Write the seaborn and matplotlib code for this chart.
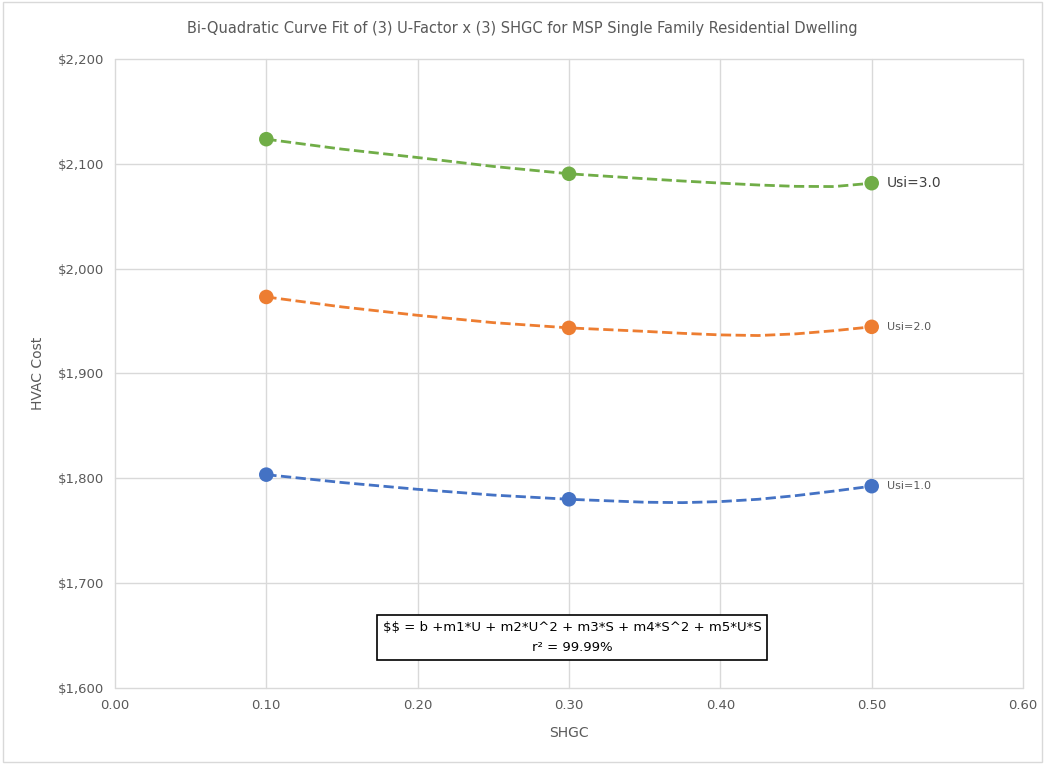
import pandas as pd
import matplotlib.pyplot as plt
import seaborn as sns
from matplotlib.ticker import FuncFormatter

# points
shgc = [0.10, 0.30, 0.50]
cost_u1 = [1803.5, 1780.0, 1792.5]
cost_u2 = [1973.0, 1943.5, 1944.5]
cost_u3 = [2123.5, 2090.5, 2081.5]

# dashed fit curves
curve_x = [0.10, 0.15, 0.20, 0.25, 0.30, 0.35, 0.375, 0.40, 0.425, 0.45, 0.475, 0.50]
curve_u1 = [1803.5, 1796.0, 1789.5, 1784.0, 1780.0, 1777.2, 1776.8, 1777.8, 1780.0, 1783.5, 1787.8, 1792.5]
curve_u2 = [1973.0, 1963.5, 1955.5, 1948.5, 1943.5, 1940.2, 1938.3, 1936.8, 1936.2, 1937.8, 1940.8, 1944.5]
curve_u3 = [2123.5, 2114.0, 2106.0, 2097.5, 2090.5, 2085.8, 2083.6, 2081.6, 2079.8, 2078.5, 2078.3, 2081.5]

series = ["Usi=1.0", "Usi=2.0", "Usi=3.0"]
colors = ["#4472C4", "#ED7D31", "#70AD47"]

pts = pd.DataFrame({
  "SHGC": shgc * 3,
  "cost": cost_u1 + cost_u2 + cost_u3,
  "series": [s for s in series for _ in shgc],
})
curves = pd.DataFrame({
  "SHGC": curve_x * 3,
  "cost": curve_u1 + curve_u2 + curve_u3,
  "series": [s for s in series for _ in curve_x],
})

sns.set_style("white")
plt.rcParams['font.family'] = ['DejaVu Sans']
grey = "#595959"

fig = plt.figure(figsize=(10.45, 7.64), dpi=100)
ax = fig.add_axes([0.110, 0.0995, 0.869, 0.8233])
palette = dict(zip(series, colors))

sns.lineplot(data=curves, x="SHGC", y="cost", hue="series", palette=palette,
             linestyle="--", linewidth=2.0, ax=ax, legend=False, sort=False,
             estimator=None)
sns.scatterplot(data=pts, x="SHGC", y="cost", hue="series", palette=palette,
                s=110, edgecolor="none", ax=ax, legend=False, zorder=5)

ax.set_xlim(0, 0.6)
ax.set_ylim(1600, 2200)
ax.set_xticks([0.0, 0.1, 0.2, 0.3, 0.4, 0.5, 0.6])
ax.set_yticks(range(1600, 2201, 100))
ax.xaxis.set_major_formatter(FuncFormatter(lambda v, p: f"{v:.2f}"))
ax.yaxis.set_major_formatter(FuncFormatter(lambda v, p: f"${v:,.0f}"))
ax.grid(True, color="#d9d9d9", linewidth=1.0)
for gl in ax.get_xgridlines() + ax.get_ygridlines():
  gl.set_clip_on(False)
for s in ax.spines.values():
  s.set_visible(False)
ax.tick_params(axis="both", length=0, labelsize=9.5, colors=grey, pad=8)

ax.set_xlabel("SHGC", fontsize=10, color=grey, labelpad=10)
ax.set_ylabel("HVAC Cost", fontsize=10, color=grey, labelpad=9)
fig.suptitle("Bi-Quadratic Curve Fit of (3) U-Factor x (3) SHGC for MSP Single Family Residential Dwelling",
             x=0.5, y=0.972, fontsize=10.5, color=grey)

# series labels at last point
ax.text(0.51, cost_u3[-1], series[2], fontsize=10, color="#404040", va="center")
ax.text(0.51, cost_u2[-1], series[1], fontsize=8, color=grey, va="center")
ax.text(0.51, cost_u1[-1], series[0], fontsize=8, color=grey, va="center")

ax.text(0.302, 1648, "\\$\\$ = b +m1*U + m2*U^2 + m3*S + m4*S^2 + m5*U*S\nr² = 99.99%",
        ha="center", va="center", fontsize=9.5, color="black", linespacing=1.7,
        bbox=dict(boxstyle="square,pad=0.45", facecolor="white", edgecolor="black", linewidth=1.2),
        zorder=6)

fig.patches.append(plt.Rectangle((0.003, 0.003), 0.994, 0.994, transform=fig.transFigure,
                                 fill=False, edgecolor="#d9d9d9", linewidth=1))

fig.savefig("out.png", dpi=100)
